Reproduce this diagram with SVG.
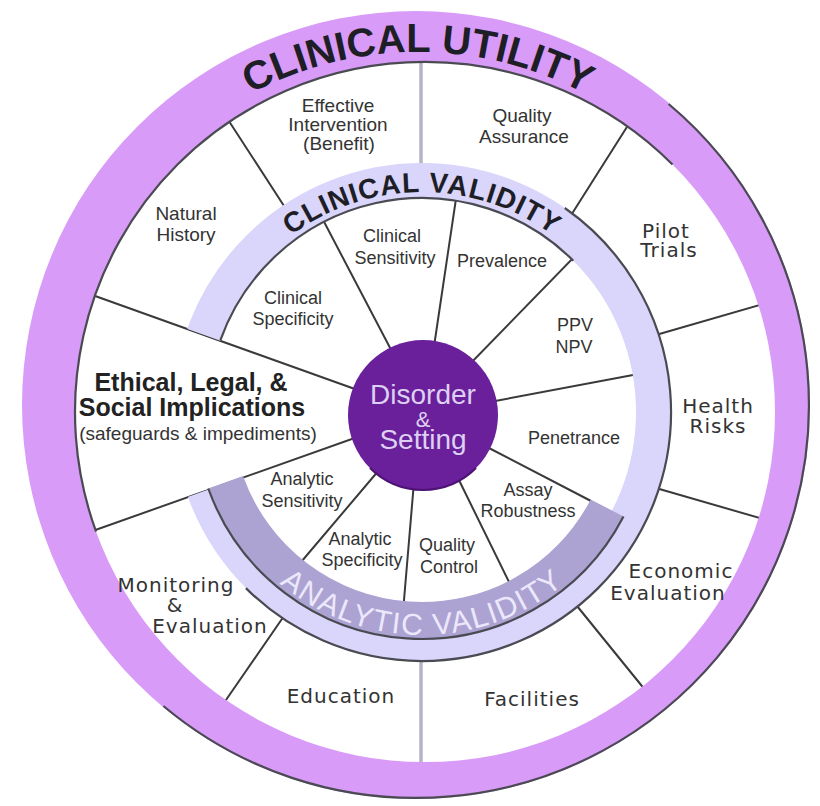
<svg xmlns="http://www.w3.org/2000/svg" width="820" height="806" viewBox="0 0 820 806">
  <defs>
    <style>
      .spoke { stroke: #3a3a3a; stroke-width: 2; fill: none; stroke-linecap: round; }
      .axis { stroke: #b4b4c4; stroke-width: 3.5; fill: none; }
      .lbl { font-family: "Liberation Sans", Arial, sans-serif; font-size: 19px; fill: #333; text-anchor: middle; }
      .lbl-lg { font-family: "DejaVu Sans", Verdana, sans-serif; font-size: 20px; letter-spacing: 1px; fill: #333; text-anchor: middle; }
      .lbl-in { font-family: "Liberation Sans", Arial, sans-serif; font-size: 18px; fill: #333; text-anchor: middle; }
      .lbl-big { font-family: "Liberation Sans", Arial, sans-serif; font-size: 25px; font-weight: bold; fill: #222; text-anchor: middle; }
      .core { font-family: "Liberation Sans", Arial, sans-serif; fill: #ddd0f2; text-anchor: middle; }
      .ring-title { font-family: "Liberation Sans", Arial, sans-serif; font-weight: bold; fill: #1e1e26; }
      .edge { fill: none; stroke: #4a4a52; stroke-width: 2.2; }
    </style>
    <!-- everything except the ethical wedge opening to the left -->
    <clipPath id="noWedge">
      <polygon points="0,0 820,0 820,806 0,806 0,564 423,413 0,262"/>
    </clipPath>
    <path id="cuArc" d="M 84.4 285.6 A 355 355 0 0 1 751.6 285.6"/>
    <path id="cvArc" d="M 215.3 336.8 A 220 220 0 0 1 628.7 336.8"/>
    <path id="avArc" d="M 202.4 450.7 A 223 223 0 0 0 641.6 450.7"/>
  </defs>

  <rect width="820" height="806" fill="#ffffff"/>

  <!-- dividing lines between segments -->
  <g id="connectors">
    <line class="axis" x1="421" y1="55" x2="421" y2="170"/>
    <line class="axis" x1="421" y1="655" x2="421" y2="770"/>
    <line class="spoke" x1="568" y1="220" x2="632" y2="119"/>
    <line class="spoke" x1="655" y1="335.3" x2="770" y2="302"/>
    <line class="spoke" x1="655" y1="487.7" x2="770" y2="521"/>
    <line class="spoke" x1="575" y1="603.5" x2="650" y2="696"/>
    <line class="spoke" x1="284.5" y1="615.3" x2="217" y2="713"/>
    <line class="spoke" x1="380" y1="429" x2="70" y2="539"/>
    <line class="spoke" x1="380" y1="398" x2="70" y2="287"/>
    <line class="spoke" x1="286" y1="209" x2="225" y2="115"/>
    <line class="spoke" x1="398" y1="363" x2="321" y2="216"/>
    <line class="spoke" x1="432" y1="360" x2="457" y2="192"/>
    <line class="spoke" x1="467" y1="367" x2="578" y2="253"/>
    <line class="spoke" x1="490" y1="402" x2="641" y2="373.5"/>
    <line class="spoke" x1="485" y1="446" x2="591" y2="501"/>
    <line class="spoke" x1="455" y1="472" x2="511" y2="586"/>
    <line class="spoke" x1="415" y1="470" x2="403.5" y2="606"/>
    <line class="spoke" x1="385" y1="463" x2="296" y2="568"/>
  </g>

  <!-- clinical validity ring -->
  <g id="clinical-validity-ring">
    <circle cx="422" cy="412" r="231.5" fill="none" stroke="#d9d5fb" stroke-width="35" clip-path="url(#noWedge)"/>
    <path class="edge" d="M 220.4 340.2 A 214 214 0 0 1 573.3 260.7"/>
    <path class="edge" d="M 564.8 208 A 249 249 0 0 1 598.1 588.1 A 249 249 0 0 1 245.9 588.1"/>
  </g>

  <!-- analytic validity band -->
  <g id="analytic-validity-band">
    <path d="M 623.5 516.5 A 227 227 0 0 1 208.3 488.5 L 243.1 476 A 190 190 0 0 0 590.7 499.4 Z" fill="#aca3d3"/>
    <path class="edge" d="M 623.5 516.5 A 227 227 0 0 1 208.3 488.5"/>
  </g>

  <!-- clinical utility ring -->
  <g id="clinical-utility-ring">
    <path fill="#d99bf8" fill-rule="evenodd" d="M 22 405 A 394 394 0 1 0 810 405 A 394 394 0 1 0 22 405 Z M 75 412 A 350 350 0 1 0 775 412 A 350 350 0 1 0 75 412 Z"/>
    <path class="edge" d="M 668.6 104 A 393 393 0 0 1 717 657.6 A 393 393 0 0 1 163.4 706"/>
    <path class="edge" d="M 96.1 531.7 A 350 350 0 0 1 177.5 164.5 A 350 350 0 0 1 672.5 164.5"/>
  </g>

  <!-- ring titles -->
  <text class="ring-title" font-size="40"><textPath href="#cuArc" startOffset="50%" text-anchor="middle">CLINICAL UTILITY</textPath></text>
  <text class="ring-title" font-size="28" letter-spacing="1"><textPath href="#cvArc" startOffset="50%" text-anchor="middle">CLINICAL VALIDITY</textPath></text>
  <text font-family="Liberation Sans, Arial, sans-serif" font-size="30" letter-spacing="1.5" fill="#ece8fc"><textPath href="#avArc" startOffset="50%" text-anchor="middle">ANALYTIC VALIDITY</textPath></text>

  <!-- hub -->
  <g id="disorder-setting">
    <circle cx="423" cy="415" r="75" fill="#6a1f9b"/>
    <path d="M 476 468 A 75 75 0 0 1 370 468" fill="none" stroke="#4c1274" stroke-width="2"/>
    <text class="core" x="423" y="404" font-size="28">Disorder</text>
    <text class="core" x="423" y="427" font-size="22">&amp;</text>
    <text class="core" x="423" y="449" font-size="28">Setting</text>
  </g>

  <!-- outer segments -->
  <g id="natural-history"><text class="lbl" x="186" y="220">Natural</text><text class="lbl" x="186" y="241">History</text></g>
  <g id="effective-intervention"><text class="lbl" x="338" y="112">Effective</text><text class="lbl" x="338" y="131">Intervention</text><text class="lbl" x="339" y="150">(Benefit)</text></g>
  <g id="quality-assurance"><text class="lbl" x="522" y="122">Quality</text><text class="lbl" x="524" y="143">Assurance</text></g>
  <g id="pilot-trials"><text class="lbl-lg" x="666" y="238">Pilot</text><text class="lbl-lg" x="669" y="257">Trials</text></g>
  <g id="health-risks"><text class="lbl-lg" x="718" y="413">Health</text><text class="lbl-lg" x="718" y="433">Risks</text></g>
  <g id="economic-evaluation"><text class="lbl-lg" x="681" y="578">Economic</text><text class="lbl-lg" x="668" y="600">Evaluation</text></g>
  <g id="facilities"><text class="lbl-lg" x="532" y="706">Facilities</text></g>
  <g id="education"><text class="lbl-lg" x="341" y="703">Education</text></g>
  <g id="monitoring-evaluation"><text class="lbl-lg" x="176" y="592">Monitoring</text><text class="lbl-lg" x="175" y="612">&amp;</text><text class="lbl-lg" x="210" y="633">Evaluation</text></g>
  <g id="elsi">
    <text class="lbl-big" x="191" y="391">Ethical, Legal, &amp;</text>
    <text class="lbl-big" x="192" y="416">Social Implications</text>
    <text class="lbl" x="198" y="440">(safeguards &amp; impediments)</text>
  </g>

  <!-- inner segments -->
  <g id="clinical-specificity"><text class="lbl-in" x="293" y="304">Clinical</text><text class="lbl-in" x="293" y="325">Specificity</text></g>
  <g id="clinical-sensitivity"><text class="lbl-in" x="392" y="242">Clinical</text><text class="lbl-in" x="395" y="264">Sensitivity</text></g>
  <g id="prevalence"><text class="lbl-in" x="502" y="267">Prevalence</text></g>
  <g id="ppv-npv"><text class="lbl-in" x="575" y="331">PPV</text><text class="lbl-in" x="574" y="353">NPV</text></g>
  <g id="penetrance"><text class="lbl-in" x="574" y="444">Penetrance</text></g>
  <g id="assay-robustness"><text class="lbl-in" x="528" y="496">Assay</text><text class="lbl-in" x="528" y="517">Robustness</text></g>
  <g id="quality-control"><text class="lbl-in" x="447" y="551">Quality</text><text class="lbl-in" x="449" y="573">Control</text></g>
  <g id="analytic-specificity"><text class="lbl-in" x="360" y="545">Analytic</text><text class="lbl-in" x="362" y="566">Specificity</text></g>
  <g id="analytic-sensitivity"><text class="lbl-in" x="302" y="485">Analytic</text><text class="lbl-in" x="302" y="507">Sensitivity</text></g>
</svg>
